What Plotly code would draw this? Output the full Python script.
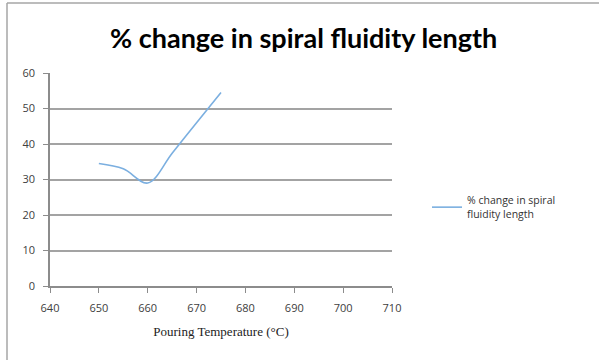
import plotly.graph_objects as go

temperature = [650, 655, 660, 665, 670, 675]
pct_change = [34.5, 33.0, 29.0, 37.4, 46.0, 54.5]
series_name = "% change in spiral<br>fluidity length"
title_text = "% change in spiral fluidity length"
x_title = "Pouring Temperature (°C)"

W, H = 599, 360
x0, x1 = 50, 392
y0, y1 = 73, 286

fig = go.Figure()
fig.add_trace(go.Scatter(
    x=temperature, y=pct_change, mode="lines", name=series_name,
    line=dict(color="#7BAFE0", width=1.6, shape="spline", smoothing=1.0),
))

fig.update_layout(
    width=W, height=H,
    margin=dict(l=0, r=0, t=0, b=0, autoexpand=False),
    paper_bgcolor="white", plot_bgcolor="white",
    showlegend=True,
    legend=dict(x=427 / W, y=1 - 187 / H, xanchor="left", yanchor="top",
                font=dict(family="Open Sans", size=10.5, color="#333333"),
                bgcolor="rgba(0,0,0,0)", itemwidth=30),
    xaxis=dict(domain=[x0 / W, x1 / W], range=[640, 710], dtick=10, tick0=640,
               showgrid=False, showline=True, linecolor="#8c8c8c", linewidth=1.5,
               ticks="outside", ticklen=5, tickcolor="#8c8c8c", ticklabelstandoff=6,
               tickfont=dict(family="Open Sans", size=11, color="#404040"),
               title=dict(text=x_title, font=dict(family="Liberation Serif", size=13, color="#222"),
                          standoff=13),
               automargin=False, zeroline=False, fixedrange=True),
    yaxis=dict(domain=[1 - y1 / H, 1 - y0 / H], range=[0, 60], dtick=10,
               showgrid=True, gridcolor="#a3a3a3", gridwidth=1.5,
               showline=True, linecolor="#8c8c8c", linewidth=1.5,
               ticks="outside", ticklen=5, tickcolor="#8c8c8c", ticklabelstandoff=6,
               tickfont=dict(family="Open Sans", size=11, color="#404040"),
               automargin=False, zeroline=False, fixedrange=True),
    annotations=[dict(text="<b>" + title_text + "</b>", x=303 / W, y=1 - 38 / H,
                      xref="paper", yref="paper", xanchor="center", yanchor="middle",
                      showarrow=False,
                      font=dict(family="Lato", size=27, color="#000"))],
    shapes=[
        dict(type="line", xref="paper", yref="paper", x0=7 / W, x1=1.01, y0=1 - 3 / H, y1=1 - 3 / H,
             line=dict(color="#a6a6a6", width=1.5)),
        dict(type="line", xref="paper", yref="paper", x0=7 / W, x1=7 / W, y0=-0.01, y1=1 - 3 / H,
             line=dict(color="#a6a6a6", width=1.5)),
    ],
)

fig.write_html("out.html")
